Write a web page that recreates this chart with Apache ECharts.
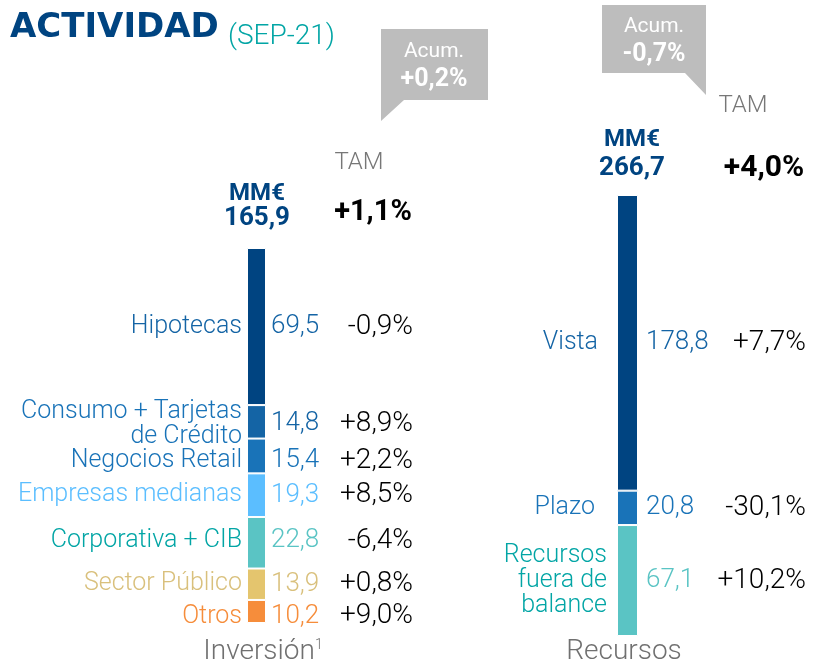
<!DOCTYPE html>
<html>
<head>
<meta charset="utf-8">
<script src="https://cdn.jsdelivr.net/npm/echarts@6/dist/echarts.min.js"></script>
<style>
  html, body { margin: 0; padding: 0; background: #fff; }
  #chart { width: 828px; height: 667px; }
</style>
</head>
<body>
<div id="chart"></div>
<script>
  // Inversión (top to bottom)
  var invNames = ['Hipotecas', 'Consumo + Tarjetas\nde Crédito', 'Negocios Retail', 'Empresas medianas', 'Corporativa + CIB', 'Sector Público', 'Otros'];
  var invValues = [69.5, 14.8, 15.4, 19.3, 22.8, 13.9, 10.2];
  var invTam = ['-0,9%', '+8,9%', '+2,2%', '+8,5%', '-6,4%', '+0,8%', '+9,0%'];
  var invTotal = 165.9;
  var invTotalTam = '+1,1%';
  var invAcum = '+0,2%';

  // Recursos (top to bottom)
  var recNames = ['Vista', 'Plazo', 'Recursos\nfuera de\nbalance'];
  var recValues = [178.8, 20.8, 67.1];
  var recTam = ['+7,7%', '-30,1%', '+10,2%'];
  var recTotal = 266.7;
  var recTotalTam = '+4,0%';
  var recAcum = '-0,7%';

  // styles
  var invBar = ['#004481', '#1464A5', '#1973B8', '#5BBEFF', '#5AC4C4', '#E4C56E', '#F68D3B'];
  var invName = ['#1464A5', '#1973B8', '#1973B8', '#5BBEFF', '#02A5A5', '#D9C07C', '#F68D3B'];
  var invVal = ['#1464A5', '#1464A5', '#1973B8', '#5BBEFF', '#5AC4C4', '#D9C07C', '#F68D3B'];
  var invShift = [0, 2, 5, 0, -2, 0, 5];
  var recBar = ['#004481', '#1973B8', '#5AC4C4'];
  var recName = ['#1464A5', '#1973B8', '#02A5A5'];
  var recVal = ['#1464A5', '#1973B8', '#5AC4C4'];
  var recNameDist = [19, 22, 10];
  var recShift = [0, 0, 0];

  var FONT = 'Roboto';
  var navy = '#004481';

  function fmt (v) {
    return v.toFixed(1).replace('.', ',');
  }

  function buildSeries (names, values, tams, bars, nameCols, valCols, shifts, opt) {
    var list = [];
    // stack goes bottom -> top, so walk from the last item
    for (var i = names.length - 1; i >= 0; i--) {
      list.push({
        type: 'bar',
        xAxisIndex: opt.x0,
        yAxisIndex: opt.y,
        stack: opt.stack,
        barWidth: opt.barWidth,
        data: [values[i]],
        silent: true,
        itemStyle: { color: bars[i], borderColor: '#fff', borderWidth: 1 },
        label: {
          show: true,
          position: 'left',
          distance: opt.nameDist[i],
          offset: [0, shifts[i]],
          formatter: names[i],
          color: nameCols[i],
          fontFamily: FONT,
          fontWeight: 300,
          fontSize: 25,
          lineHeight: 25,
          align: 'right'
        }
      });
      list.push({
        type: 'bar',
        xAxisIndex: opt.x1,
        yAxisIndex: opt.y,
        stack: opt.stack + 'Lbl',
        barWidth: opt.barWidth,
        data: [values[i]],
        silent: true,
        itemStyle: { color: 'rgba(0,0,0,0)' },
        label: {
          show: true,
          position: 'right',
          distance: opt.valDist,
          offset: [0, shifts[i]],
          formatter: '{v|' + fmt(values[i]) + '}{p|' + tams[i] + '}',
          rich: {
            v: { width: opt.vW, color: valCols[i], fontFamily: FONT, fontWeight: 300, fontSize: 26 },
            p: { width: opt.pW, align: 'right', color: '#000', fontFamily: FONT, fontWeight: 300, fontSize: 28 }
          }
        }
      });
    }
    return list;
  }

  function txt (x, y, text, size, color, weight, align) {
    return {
      type: 'text', x: x, y: y, silent: true,
      style: {
        text: text, fill: color, fontFamily: FONT, fontSize: size,
        fontWeight: weight || 300, align: align || 'center', verticalAlign: 'middle'
      }
    };
  }

  var series = []
    .concat(buildSeries(invNames, invValues, invTam, invBar, invName, invVal, invShift, {
      x0: 0, x1: 1, y: 0, stack: 'inv', barWidth: 19,
      nameDist: invNames.map(function () { return 5; }), valDist: 5, vW: 62, pW: 80
    }))
    .concat(buildSeries(recNames, recValues, recTam, recBar, recName, recVal, recShift, {
      x0: 2, x1: 3, y: 1, stack: 'rec', barWidth: 21,
      nameDist: recNameDist, valDist: 8, vW: 74, pW: 86
    }));

  var chart = echarts.init(document.getElementById('chart'));
  chart.setOption({
    animation: false,
    grid: [
      { left: 247, width: 19, top: 248, bottom: 44 },
      { left: 617, width: 21, top: 195, bottom: 31 }
    ],
    xAxis: [
      { type: 'category', gridIndex: 0, data: [''], show: false },
      { type: 'category', gridIndex: 0, data: [''], show: false },
      { type: 'category', gridIndex: 1, data: [''], show: false },
      { type: 'category', gridIndex: 1, data: [''], show: false }
    ],
    yAxis: [
      { type: 'value', gridIndex: 0, min: 0, max: invTotal, show: false },
      { type: 'value', gridIndex: 1, min: 0, max: recTotal, show: false }
    ],
    series: series,
    graphic: [
      // title
      {
        type: 'text', x: 10, y: 28, silent: true,
        style: { text: 'ACTIVIDAD', fill: navy, fontFamily: 'DejaVu Sans', fontWeight: 'bold', fontSize: 34, verticalAlign: 'middle' }
      },
      txt(228, 37, '(SEP-21)', 28, '#02A5A5', 300, 'left'),

      // callouts
      { type: 'polygon', silent: true, shape: { points: [[381, 29], [488, 29], [488, 100], [404, 100], [381, 121]] }, style: { fill: '#BDBDBD' } },
      txt(434, 52, 'Acum.', 21, '#fff', 400),
      txt(434, 80, invAcum, 25, '#fff', 'bold'),
      { type: 'polygon', silent: true, shape: { points: [[602, 5], [706, 5], [706, 95], [685, 73], [602, 73]] }, style: { fill: '#BDBDBD' } },
      txt(654, 27, 'Acum.', 21, '#fff', 400),
      txt(654, 55, recAcum, 25, '#fff', 'bold'),

      // headers
      txt(359, 163, 'TAM', 24, '#777', 300),
      txt(743, 106, 'TAM', 24, '#777', 300),
      txt(257, 194, 'MM€', 24, navy, 'bold'),
      txt(257, 218, fmt(invTotal), 26, navy, 'bold'),
      txt(373, 213, invTotalTam, 29, '#000', 'bold'),
      txt(632, 140, 'MM€', 24, navy, 'bold'),
      txt(632, 168, fmt(recTotal), 26, navy, 'bold'),
      txt(764, 168, recTotalTam, 30, '#000', 'bold'),

      // bar captions
      {
        type: 'text', x: 263, y: 652, silent: true,
        style: {
          text: '{a|Inversión}{s|1}', align: 'center', verticalAlign: 'middle',
          rich: {
            a: { fontFamily: FONT, fontWeight: 300, fontSize: 28, fill: '#707070' },
            s: { fontFamily: FONT, fontWeight: 300, fontSize: 14, fill: '#707070', verticalAlign: 'top', padding: [0, 0, 12, 0] }
          }
        }
      },
      txt(624, 652, 'Recursos', 28, '#707070', 300)
    ]
  });
</script>
</body>
</html>
